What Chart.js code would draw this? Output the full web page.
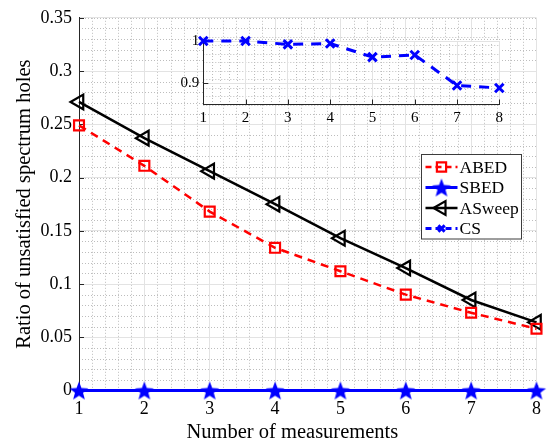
<!DOCTYPE html>
<html>
<head>
<meta charset="utf-8">
<script src="https://cdn.jsdelivr.net/npm/chart.js@4.4.1/dist/chart.umd.min.js"></script>
<style>
html, body { margin: 0; padding: 0; background: #fff; }
#wrap { position: relative; width: 549px; height: 446px; }
#main { position: absolute; left: 0; top: 0; }
#inset { position: absolute; left: 160px; top: 26px; }
</style>
</head>
<body>
<div id="wrap">
  <canvas id="main" width="549" height="446"></canvas>
  <canvas id="inset" width="360" height="110"></canvas>
</div>
<script>
// data
const measurements = [1, 2, 3, 4, 5, 6, 7, 8];
const abed   = [0.249, 0.211, 0.168, 0.134, 0.112, 0.090, 0.073, 0.058];
const sbed   = [0, 0, 0, 0, 0, 0, 0, 0];
const asweep = [0.271, 0.237, 0.206, 0.175, 0.143, 0.115, 0.085, 0.064];
const cs     = [1.0, 1.0, 0.992, 0.994, 0.962, 0.967, 0.895, 0.889];
const seriesNames = ["ABED", "SBED", "ASweep", "CS"];
const mainYTicks = [0, 0.05, 0.1, 0.15, 0.2, 0.25, 0.3, 0.35];
const insetYTicks = [0.9, 1];

const FONT = "'Liberation Serif', 'Times New Roman', serif";
const RED = "#ff0000", BLUE = "#0000ff", BLACK = "#000000";

function pts(vals) {
    return measurements.map(function (m, i) { return { x: m, y: vals[i] }; });
}

// filled five point star marker
function starMarker(r, color) {
    const c = document.createElement("canvas");
    const s = Math.ceil(r * 2 + 2);
    c.width = s; c.height = s;
    const g = c.getContext("2d");
    g.fillStyle = color;
    g.beginPath();
    for (let i = 0; i < 10; i++) {
        const rr = i % 2 === 0 ? r : r * 0.42;
        const a = -Math.PI / 2 + i * Math.PI / 5;
        const px = s / 2 + Math.cos(a) * rr, py = s / 2 + 1 + Math.sin(a) * rr;
        if (i === 0) g.moveTo(px, py); else g.lineTo(px, py);
    }
    g.closePath();
    g.fill();
    return c;
}
const star = starMarker(10, BLUE);

// dotted minor grid + inward ticks
function minorGrid(xStep, yStep) {
    return {
        id: "minorGrid",
        beforeDraw: function (chart) {
            const ctx = chart.ctx, a = chart.chartArea;
            const xs = chart.scales.x, ys = chart.scales.y;
            ctx.save();
            ctx.fillStyle = "#fff";
            ctx.fillRect(a.left, a.top, a.right - a.left, a.bottom - a.top);
            ctx.strokeStyle = "#bdbdbd";
            ctx.lineWidth = 1;
            ctx.setLineDash([1, 2]);
            ctx.beginPath();
            for (let v = xs.min; v <= xs.max + 1e-9; v += xStep) {
                if (Math.abs(v - Math.round(v)) < 1e-6) continue;
                const p = Math.round(xs.getPixelForValue(v)) + 0.5;
                ctx.moveTo(p, a.top); ctx.lineTo(p, a.bottom);
            }
            const n = Math.round((ys.max - ys.min) / yStep);
            for (let k = 0; k <= n; k++) {
                const v = ys.min + k * yStep;
                const p = Math.round(ys.getPixelForValue(v)) + 0.5;
                ctx.moveTo(a.left, p); ctx.lineTo(a.right, p);
            }
            ctx.stroke();
            ctx.restore();
        },
        beforeDatasetsDraw: function (chart) {
            const ctx = chart.ctx, a = chart.chartArea;
            const ys = chart.scales.y, xs = chart.scales.x;
            ctx.save();
            ctx.strokeStyle = "#262626";
            ctx.lineWidth = 1;
            ctx.beginPath();
            ys.ticks.forEach(function (t) {
                const p = Math.round(ys.getPixelForValue(t.value)) + 0.5;
                ctx.moveTo(a.left, p); ctx.lineTo(a.left + 5, p);
            });
            xs.ticks.forEach(function (t) {
                const p = Math.round(xs.getPixelForValue(t.value)) + 0.5;
                ctx.moveTo(p, a.bottom); ctx.lineTo(p, a.bottom - 5);
            });
            ctx.stroke();
            ctx.restore();
        }
    };
}

// legend box inside the plot, drawn from the datasets
const boxLegend = {
    id: "boxLegend",
    afterDraw: function (chart) {
        const ctx = chart.ctx;
        const x0 = 421.5, y0 = 154.5, w = 100, h = 84.5, step = 20.5;
        ctx.save();
        ctx.fillStyle = "#fff";
        ctx.fillRect(x0, y0, w, h);
        ctx.strokeStyle = "#3c3c3c";
        ctx.lineWidth = 1;
        ctx.strokeRect(x0, y0, w, h);
        chart.data.datasets.forEach(function (ds, i) {
            const cy = y0 + 12.5 + i * step;
            ctx.strokeStyle = ds.borderColor;
            ctx.lineWidth = ds.borderWidth;
            ctx.setLineDash(ds.borderDash ? [6, 4] : []);
            ctx.beginPath();
            ctx.moveTo(x0 + 4, cy); ctx.lineTo(x0 + 36, cy);
            ctx.stroke();
            ctx.setLineDash([]);
            ctx.fillStyle = ds.pointBackgroundColor;
            ctx.strokeStyle = ds.pointBorderColor;
            ctx.lineWidth = ds.pointBorderWidth;
            Chart.helpers.drawPoint(ctx, {
                pointStyle: ds.pointStyle,
                rotation: ds.pointRotation || 0,
                radius: ds.legendRadius,
                borderWidth: ds.pointBorderWidth
            }, x0 + 20, cy);
            ctx.fillStyle = "#000";
            ctx.font = "17.5px " + FONT;
            ctx.textAlign = "left";
            ctx.textBaseline = "middle";
            ctx.fillText(ds.label, x0 + 38, cy + 1);
        });
        ctx.restore();
    }
};

const mainData = {
    datasets: [
        {
            label: seriesNames[0], data: pts(abed),
            borderColor: RED, borderWidth: 2.5, borderDash: [8, 6],
            pointStyle: "rect", pointRadius: 7, pointBorderWidth: 2.2,
            pointBorderColor: RED, pointBackgroundColor: "rgba(0,0,0,0)",
            legendRadius: 6.5
        },
        {
            label: seriesNames[1], data: pts(sbed),
            borderColor: BLUE, borderWidth: 3,
            pointStyle: star, pointRadius: 10, pointBorderWidth: 0,
            pointBorderColor: BLUE, pointBackgroundColor: BLUE,
            legendRadius: 10
        },
        {
            label: seriesNames[2], data: pts(asweep),
            borderColor: BLACK, borderWidth: 2.5,
            pointStyle: "triangle", pointRotation: -90, pointRadius: 8.5, pointBorderWidth: 2.2,
            pointBorderColor: BLACK, pointBackgroundColor: "rgba(0,0,0,0)",
            legendRadius: 8
        },
        {
            label: seriesNames[3], data: [],
            borderColor: BLUE, borderWidth: 3, borderDash: [8, 6],
            pointStyle: "crossRot", pointRadius: 4.5, pointBorderWidth: 3,
            pointBorderColor: BLUE, pointBackgroundColor: BLUE,
            legendRadius: 4.5
        }
    ]
};

new Chart(document.getElementById("main"), {
    type: "line",
    data: mainData,
    options: {
        responsive: false,
        animation: false,
        devicePixelRatio: 1,
        layout: { padding: { left: 0, right: 11, top: 16, bottom: 0 } },
        elements: { line: { tension: 0 } },
        datasets: { line: { clip: false } },
        plugins: { legend: { display: false }, tooltip: { enabled: false } },
        scales: {
            x: {
                type: "linear", min: 1, max: 8,
                afterFit: function (s) { s.height = 55.5; },
                ticks: { stepSize: 1, padding: 8, color: "#000", font: { family: FONT, size: 18 } },
                grid: { color: "#e3e3e3", drawTicks: false },
                border: { color: "#262626" },
                title: {
                    // trailing spaces shift the centred title left, as in the figure
                    display: true, text: "Number of measurements      ", color: "#000",
                    font: { family: FONT, size: 20.5 }, padding: { top: 0, bottom: 1 }
                }
            },
            y: {
                min: 0, max: 0.35,
                afterFit: function (s) { s.width = 79; },
                afterBuildTicks: function (s) { s.ticks = mainYTicks.map(function (v) { return { value: v }; }); },
                ticks: {
                    padding: 7, color: "#000", font: { family: FONT, size: 18 },
                    callback: function (v) { return String(+v.toFixed(2)); }
                },
                grid: { color: "#e3e3e3", drawTicks: false },
                border: { color: "#262626" },
                title: {
                    display: true, text: "Ratio of unsatisfied spectrum holes", color: "#000",
                    font: { family: FONT, size: 20.5 }, padding: { top: 12, bottom: 0 }
                }
            }
        }
    },
    plugins: [minorGrid(0.2, 0.01), boxLegend]
});

// inset with the CS curve
new Chart(document.getElementById("inset"), {
    type: "line",
    data: {
        datasets: [{
            label: seriesNames[3], data: pts(cs),
            borderColor: BLUE, borderWidth: 3, borderDash: [10, 8],
            pointStyle: "crossRot", pointRadius: 6, pointBorderWidth: 3,
            pointBorderColor: BLUE, pointBackgroundColor: BLUE
        }]
    },
    options: {
        responsive: false,
        animation: false,
        devicePixelRatio: 1,
        layout: { padding: { left: 0, right: 20.7, top: 15, bottom: 0 } },
        elements: { line: { tension: 0 } },
        datasets: { line: { clip: false } },
        plugins: { legend: { display: false }, tooltip: { enabled: false } },
        scales: {
            x: {
                type: "linear", min: 1, max: 8,
                afterFit: function (s) { s.height = 31.5; },
                ticks: { stepSize: 1, padding: 5, color: "#000", font: { family: FONT, size: 15 } },
                grid: { color: "#e3e3e3", drawTicks: false },
                border: { color: "#262626" }
            },
            y: {
                min: 0.85, max: 1,
                afterFit: function (s) { s.width = 43.3; },
                afterBuildTicks: function (s) { s.ticks = insetYTicks.map(function (v) { return { value: v }; }); },
                ticks: {
                    padding: 4, color: "#000", font: { family: FONT, size: 15 },
                    callback: function (v) { return String(+v.toFixed(2)); }
                },
                grid: { color: "#e3e3e3", drawTicks: false },
                border: { color: "#262626" }
            }
        }
    },
    plugins: [minorGrid(0.2, 0.02)]
});
</script>
</body>
</html>
